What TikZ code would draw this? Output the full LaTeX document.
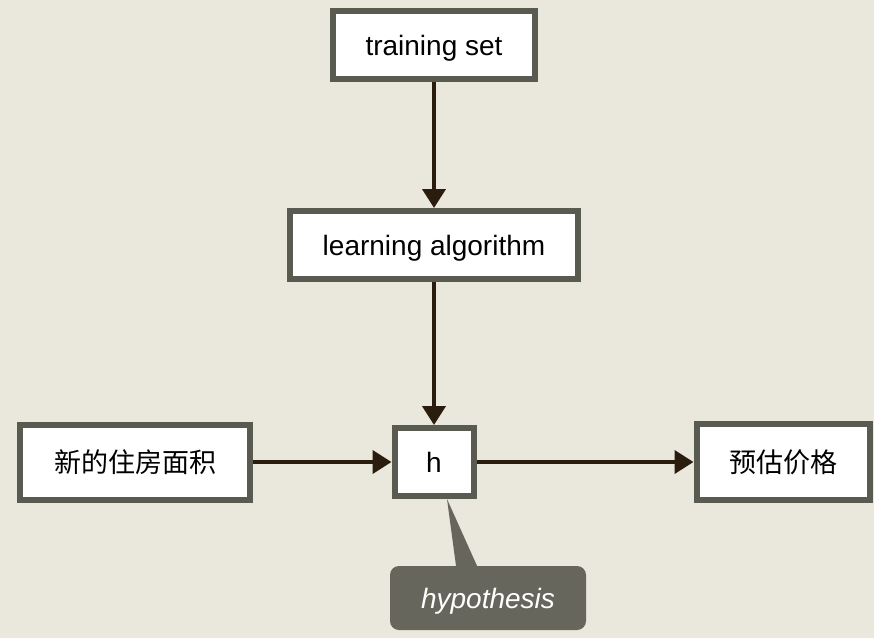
\documentclass[tikz,border=0pt]{standalone}
\usepackage{fontspec}
\setmainfont{Liberation Sans}
\newfontfamily\cjk{Noto Sans CJK SC}
\usetikzlibrary{arrows.meta}
\definecolor{bg}{HTML}{EAE7DC}
\definecolor{frame}{HTML}{595A50}
\definecolor{wire}{HTML}{2B1D0E}
\definecolor{tag}{HTML}{66665C}
\begin{document}
\begin{tikzpicture}[x=1pt, y=-1pt,
    box/.style={draw=frame, line width=6pt, fill=white, inner sep=0pt,
                text height=21pt, text depth=1pt,
                font=\fontsize{28}{34}\selectfont},
    cjkbox/.style={draw=frame, line width=6pt, fill=white, inner sep=0pt,
                font=\cjk\fontsize{27}{32}\selectfont},
    flow/.style={draw=wire, line width=4pt, -{Triangle[length=19pt, width=23pt]}},
    note/.style={fill=tag, rounded corners=9pt, text=white, inner sep=0pt,
                 text height=21pt, text depth=1pt,
                 font=\itshape\fontsize{28}{34}\selectfont},
  ]
    \fill[bg] (0,0) rectangle (874,638);
    \useasboundingbox (0,0) rectangle (874,638);

    \node[box, minimum width=202pt, minimum height=68pt] (train) at (434,45) {training set};
    \node[box, minimum width=288pt, minimum height=68pt] (learn) at (434,245) {learning algorithm};
    \node[cjkbox, minimum width=230pt, minimum height=75pt] (area) at (135,462) {新的住房面积};
    \node[box, minimum width=79pt, minimum height=68pt] (h) at (434,462) {h};
    \node[cjkbox, minimum width=173pt, minimum height=76pt] (price) at (783,462) {预估价格};
    \node[note, minimum width=196pt, minimum height=64pt] (hyp) at (488,598) {hypothesis};

    % pointer of the note
    \fill[tag] ([xshift=13pt]h.south) -- ([xshift=-32pt]hyp.north)
        -- ([xshift=-11pt]hyp.north) -- cycle;

    \draw[flow] (train.south) -- (learn.north);
    \draw[flow] (learn.south) -- (h.north);
    \draw[flow] (area.east)   -- (h.west);
    \draw[flow] (h.east)      -- (price.west);
\end{tikzpicture}
\end{document}
